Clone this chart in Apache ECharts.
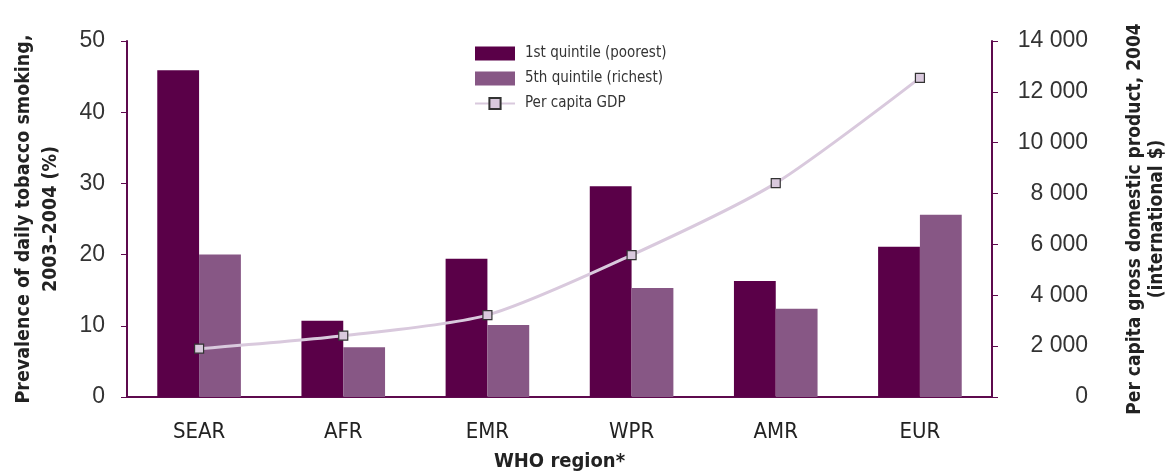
<!DOCTYPE html>
<html>
<head>
<meta charset="utf-8">
<script src="https://cdn.jsdelivr.net/npm/echarts@6/dist/echarts.min.js"></script>
<style>
  html, body { margin: 0; padding: 0; background: #fff; }
  #main { width: 1169px; height: 472px; }
</style>
</head>
<body>
<div id="main"></div>
<script>
// WHO regions
var regions = ['SEAR', 'AFR', 'EMR', 'WPR', 'AMR', 'EUR'];
// prevalence of daily smoking (%)
var poorest = [45.9, 10.7, 19.4, 29.6, 16.3, 21.1];
var richest = [20.0, 7.0, 10.1, 15.3, 12.4, 25.6];
// per capita GDP, international $
var gdp = [1900, 2410, 3220, 5580, 8410, 12550];

var narrow = "'Liberation Sans Narrow', 'DejaVu Sans Condensed', 'Roboto', sans-serif";
var plain = "'Liberation Sans', Arial, sans-serif";
var axisCol = '#5e0a4e';

var chart = echarts.init(document.getElementById('main'));

chart.setOption({
  animation: false,
  backgroundColor: '#fff',
  grid: { left: 127, right: 177, top: 41, bottom: 75, outerBoundsMode: 'none' },
  legend: {
    orient: 'vertical',
    left: 469,
    top: 41,
    itemWidth: 40,
    itemHeight: 14,
    itemGap: 10,
    textStyle: { fontFamily: narrow, fontSize: 15, color: '#333', padding: [0, 0, 0, 5] },
    data: [
      { name: '1st quintile (poorest)', icon: 'rect' },
      { name: '5th quintile (richest)', icon: 'rect' },
      { name: 'Per capita GDP' }
    ]
  },
  xAxis: {
    type: 'category',
    data: regions,
    name: 'WHO region*',
    nameLocation: 'middle',
    nameGap: 55,
    nameTextStyle: { fontFamily: narrow, fontSize: 20, fontWeight: 'bold', color: '#222' },
    axisLine: { lineStyle: { color: axisCol, width: 2 } },
    axisTick: { show: false },
    axisLabel: { fontFamily: narrow, fontSize: 22, color: '#222', margin: 24 }
  },
  yAxis: [{
    type: 'value',
    min: 0, max: 50, interval: 10,
    position: 'left',
    name: 'Prevalence of daily tobacco smoking,\n2003–2004 (%)',
    nameLocation: 'middle',
    nameRotate: 90,
    nameGap: 63,
    nameTextStyle: { fontFamily: narrow, fontSize: 19.5, fontWeight: 'bold', color: '#222', lineHeight: 27 },
    axisLine: { show: true, lineStyle: { color: axisCol, width: 2 } },
    axisTick: { show: true, length: 6, lineStyle: { color: axisCol, width: 1 } },
    axisLabel: { fontFamily: plain, fontSize: 23, color: '#333', margin: 22 },
    splitLine: { show: false }
  }, {
    type: 'value',
    min: 0, max: 14000, interval: 2000,
    position: 'right',
    name: 'Per capita gross domestic product, 2004\n(international $)',
    nameLocation: 'middle',
    nameRotate: 90,
    nameGap: 132,
    nameTextStyle: { fontFamily: narrow, fontSize: 19, fontWeight: 'bold', color: '#222', lineHeight: 22 },
    axisLine: { show: true, lineStyle: { color: axisCol, width: 2 } },
    axisTick: { show: true, length: 6, lineStyle: { color: axisCol, width: 1 } },
    axisLabel: {
      fontFamily: plain, fontSize: 23, color: '#333', margin: 96, align: 'right',
      formatter: function (v) { return String(v).replace(/\B(?=(\d{3})+(?!\d))/g, ' '); }
    },
    splitLine: { show: false }
  }],
  series: [{
    name: '1st quintile (poorest)',
    type: 'bar',
    data: poorest,
    barGap: '0%',
    barCategoryGap: '42%',
    itemStyle: { color: '#5a0048' }
  }, {
    name: '5th quintile (richest)',
    type: 'bar',
    data: richest,
    itemStyle: { color: '#875785' }
  }, {
    name: 'Per capita GDP',
    type: 'line',
    yAxisIndex: 1,
    data: gdp,
    smooth: 0.25,
    symbol: 'rect',
    symbolSize: 9,
    lineStyle: { color: '#d9c9dd', width: 3 },
    itemStyle: { color: '#d9c9dd', borderColor: '#333', borderWidth: 1.2 },
    z: 5
  }]
});
</script>
</body>
</html>
